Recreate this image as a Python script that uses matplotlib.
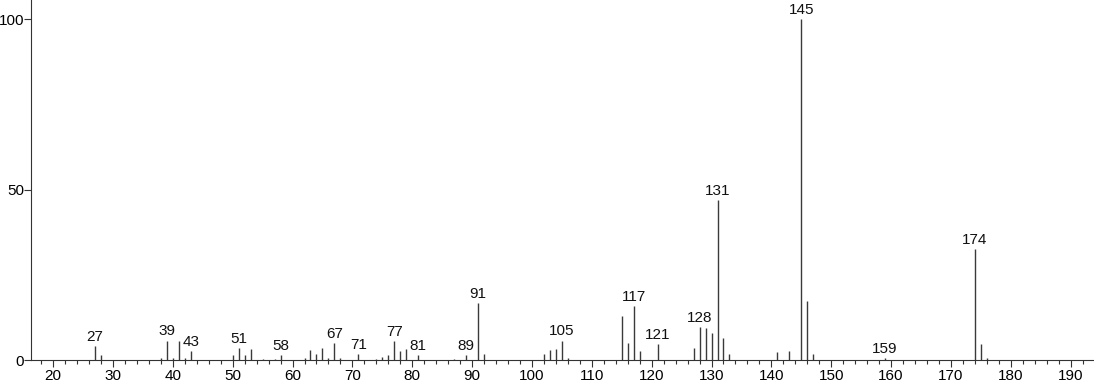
import matplotlib.pyplot as plt
from matplotlib.ticker import MultipleLocator

plt.rcParams['font.family'] = ['Liberation Sans', 'DejaVu Sans']

# m/z and relative intensity
mz = [27, 28, 38, 39, 40, 41, 42, 43, 50, 51, 52, 53, 55, 57, 58,
      62, 63, 64, 65, 66, 67, 68, 71, 74, 75, 76, 77, 78, 79, 81, 87, 89,
      91, 92, 102, 103, 104, 105, 106,
      115, 116, 117, 118, 121, 127, 128, 129, 130, 131, 132, 133,
      141, 143, 145, 146, 147, 159, 174, 175, 176]
intensity = [4.1, 1.5, 0.6, 5.7, 0.6, 5.5, 0.7, 2.6, 1.4, 3.6, 1.4, 3.1, 0.4, 0.3, 1.5,
             0.6, 2.9, 1.9, 3.6, 0.5, 4.9, 0.5, 1.7, 0.4, 0.8, 1.4, 5.5, 2.6, 3.2, 1.4, 0.3, 1.5,
             16.7, 1.8, 1.7, 2.9, 3.2, 5.7, 0.5,
             12.9, 5.0, 15.9, 2.6, 4.7, 3.4, 9.6, 9.4, 7.9, 46.9, 6.5, 1.7,
             2.4, 2.7, 100.0, 17.3, 1.7, 0.5, 32.6, 4.8, 0.5]
labelled = [27, 39, 43, 51, 58, 67, 71, 77, 81, 89, 91, 105, 117, 121,
            128, 131, 145, 159, 174]

fig = plt.figure(figsize=(10.94, 3.84), dpi=100)
ax = fig.add_axes([0.0283, 0.0625, 0.9717, 0.9375])

ax.vlines(mz, 0, intensity, colors='#3a3a3a', linewidth=1.0)
for m, h in zip(mz, intensity):
    if m in labelled:
        ax.annotate(str(m), (m, h), xytext=(0, 1.5), textcoords='offset points',
                    ha='center', va='bottom', fontsize=11, color='#111111',
                    annotation_clip=False)

ax.set_xlim(16.3, 193.9)
ax.set_ylim(0, 105.6)
ax.set_yticks([0, 50, 100])
ax.xaxis.set_major_locator(MultipleLocator(10))
ax.xaxis.set_minor_locator(MultipleLocator(2))
ax.tick_params(axis='x', which='major', labelsize=11, length=5, width=0.8,
               color='#333333', pad=1.5)
ax.tick_params(axis='y', which='major', labelsize=11, length=5, width=0.8,
               color='#333333', pad=0)
ax.tick_params(axis='x', which='minor', length=3, width=0.8, color='#333333')

for s in ['top', 'right']:
    ax.spines[s].set_visible(False)
for s in ['left', 'bottom']:
    ax.spines[s].set_color('#333333')
    ax.spines[s].set_linewidth(0.8)

fig.savefig('out.png', dpi=100)
